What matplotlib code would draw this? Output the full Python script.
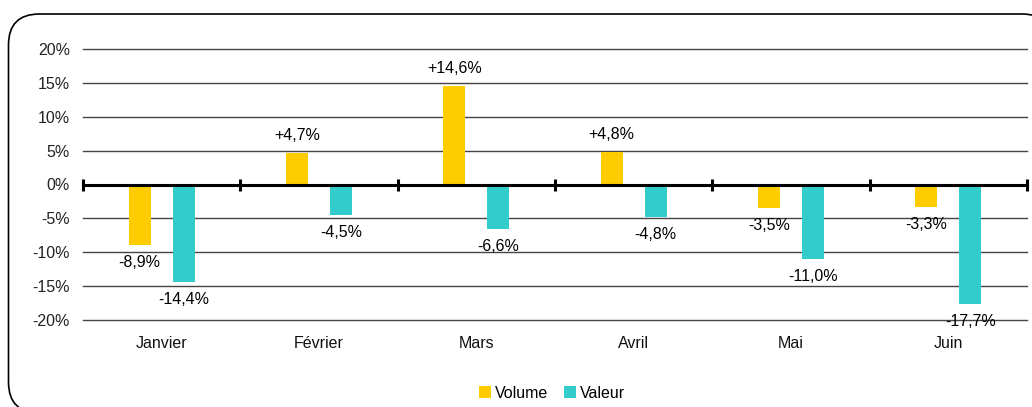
import matplotlib
matplotlib.use("Agg")
import matplotlib.pyplot as plt
from matplotlib.patches import FancyBboxPatch
from matplotlib.transforms import blended_transform_factory, offset_copy
import numpy as np

plt.rcParams['font.family'] = ['Liberation Sans', 'DejaVu Sans']
FS = 11.5
plt.rcParams['font.size'] = FS

categories = ["Janvier", "Février", "Mars", "Avril", "Mai", "Juin"]
volume = [-8.9, 4.7, 14.6, 4.8, -3.5, -3.3]
valeur = [-14.4, -4.5, -6.6, -4.8, -11.0, -17.7]
yticks = [-20, -15, -10, -5, 0, 5, 10, 15, 20]

c_vol = "#FFCC00"
c_val = "#33CCCC"

W, H = 1032, 407
fig = plt.figure(figsize=(W / 100, H / 100), dpi=100)

# rounded frame in a background pixel-coordinate axes
bg = fig.add_axes([0, 0, 1, 1], zorder=-5)
bg.set_xlim(0, W)
bg.set_ylim(H, 0)
bg.axis("off")
box = FancyBboxPatch((8.5, 14), 1053 - 8.5, 413 - 14,
                     boxstyle="round,pad=0,rounding_size=31",
                     facecolor="white", edgecolor="black", linewidth=1.2)
bg.add_patch(box)

ax = fig.add_axes([83 / W, 1 - 320 / H, (1027 - 83) / W, (320 - 49) / H], zorder=1)
ax.set_facecolor("none")

x = np.arange(len(categories))
bw = 0.14
off = 0.14
ax.bar(x - off, volume, width=bw, color=c_vol, label="Volume", zorder=3)
ax.bar(x + off, valeur, width=bw, color=c_val, label="Valeur", zorder=3)

ax.set_xlim(-0.5, len(categories) - 0.5)
ax.set_ylim(-20, 20)
ax.set_yticks(yticks)
ax.set_yticklabels([f"{v}%" for v in yticks])
ax.tick_params(axis='y', length=0, pad=9.5, labelsize=FS, colors="#222222")
for v in yticks:
    if v != 0:
        ax.axhline(v, color="#444444", linewidth=1.0, zorder=1, clip_on=False)

for s in ["left", "right", "top"]:
    ax.spines[s].set_visible(False)
ax.spines["bottom"].set_position(("data", 0))
ax.spines["bottom"].set_linewidth(2.2)
ax.spines["bottom"].set_zorder(4)
ax.set_xticks(np.arange(-0.5, len(categories), 1.0))
ax.set_xticklabels([])
ax.tick_params(axis='x', direction='inout', length=8, width=2.2)

# category labels
trans = offset_copy(blended_transform_factory(ax.transData, ax.transAxes),
                    fig=fig, x=0, y=-24, units='dots')
for i, c in enumerate(categories):
    ax.text(i, 0, c, transform=trans, ha='center', va='center', fontsize=FS,
            color="#111111")

def fmt(v):
    return f"{v:+.1f}%".replace(".", ",")

for xs, vals in ((x - off, volume), (x + off, valeur)):
    for xi, v in zip(xs, vals):
        if v >= 0:
            ax.annotate(fmt(v), (xi, v), xytext=(0, 7), textcoords='offset points',
                        ha='center', va='bottom', fontsize=FS, zorder=5)
        else:
            ax.annotate(fmt(v), (xi, v), xytext=(0, -7), textcoords='offset points',
                        ha='center', va='top', fontsize=FS, zorder=5)

fig.legend(loc='center', bbox_to_anchor=(552 / W, 1 - 393 / H), ncol=2,
           frameon=False, handlelength=0.75, handleheight=0.75, handletextpad=0.25,
           columnspacing=1.0, fontsize=FS)

fig.savefig("out.png", dpi=100)
